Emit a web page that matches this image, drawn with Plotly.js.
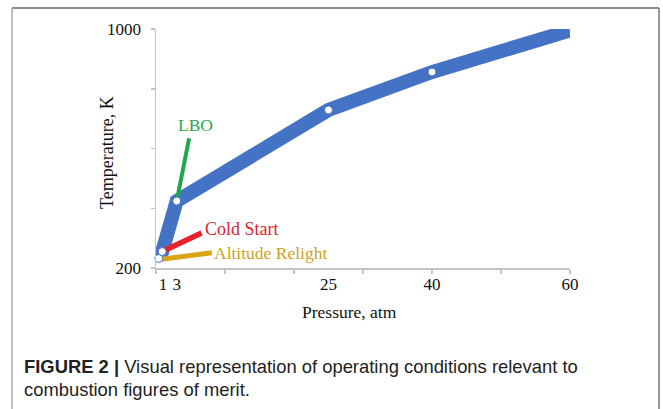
<!DOCTYPE html>
<html>
<head>
<meta charset="utf-8">
<script src="https://cdn.plot.ly/plotly-3.0.1.min.js"></script>
<style>
  html, body { margin: 0; padding: 0; background: #ffffff; }
  #chart { width: 663px; height: 409px; }
</style>
</head>
<body>
<div id="chart"></div>
<script>
// ---- data ----
const pressure = [0.4, 0.9, 3, 25, 40, 60];
const temperature = [232, 255, 424, 729, 856, 995];

const lboPressure = [3, 4.8];
const lboTemperature = [424, 634];

const coldPressure = [0.9, 6.6];
const coldTemperature = [255, 317];

const relightPressure = [0.7, 8.1];
const relightTemperature = [229, 251];

const xTickVals = [1, 3, 25, 40, 60];
const xTickText = ['1', '3', '25', '40', '60'];
const yTickVals = [200, 1000];
const yTickText = ['200', '1000'];

const xTitle = 'Pressure, atm';
const yTitle = 'Temperature, K';
const captionBold = 'FIGURE 2 |';
const captionLine1 = ' Visual representation of operating conditions relevant to';
const captionLine2 = 'combustion figures of merit.';

// ---- layout geometry (pixels) ----
const W = 663, H = 409;
const L = 156, R = 570, T = 29, B = 268;
const px = x => (x - L) / (R - L);
const py = y => (B - y) / (B - T);

const serif = 'Liberation Serif, Times New Roman, serif';
const sans = 'Liberation Sans, Arial, sans-serif';

const blue = '#4472c4';

const traces = [
  {
    x: pressure, y: temperature, mode: 'lines', type: 'scatter',
    line: { color: blue, width: 14 }, hoverinfo: 'skip', cliponaxis: false
  },
  {
    x: lboPressure, y: lboTemperature, mode: 'lines', type: 'scatter',
    line: { color: '#1fa84b', width: 4 }, hoverinfo: 'skip', cliponaxis: false
  },
  {
    x: coldPressure, y: coldTemperature, mode: 'lines', type: 'scatter',
    line: { color: '#e3222b', width: 5.5 }, hoverinfo: 'skip', cliponaxis: false
  },
  {
    x: relightPressure, y: relightTemperature, mode: 'lines', type: 'scatter',
    line: { color: '#d9a514', width: 5 }, hoverinfo: 'skip', cliponaxis: false
  },
  {
    x: pressure.slice(0, 5), y: temperature.slice(0, 5), mode: 'markers', type: 'scatter',
    marker: { color: '#ffffff', size: 8, line: { color: blue, width: 1 } },
    hoverinfo: 'skip', cliponaxis: false
  }
];

const axisGray = '#c4c4c4';

const layout = {
  width: W, height: H,
  margin: { l: L, r: W - R, t: T, b: H - B, pad: 0 },
  paper_bgcolor: '#ffffff', plot_bgcolor: '#ffffff',
  showlegend: false,
  xaxis: {
    range: [0, 60], showgrid: false, zeroline: false,
    showline: true, linecolor: axisGray, linewidth: 1.5,
    tickmode: 'array', tickvals: xTickVals, ticktext: xTickText,
    ticks: '', ticklabelstandoff: 0,
    minor: { ticks: 'outside', ticklen: 4, tickcolor: axisGray, tickwidth: 1.5, tickmode: 'linear', tick0: 0, dtick: 10, showgrid: false },
    tickfont: { family: serif, size: 17, color: '#111' }
  },
  yaxis: {
    range: [200, 1000], showgrid: false, zeroline: false,
    showline: true, linecolor: axisGray, linewidth: 1.5,
    tickmode: 'array', tickvals: yTickVals, ticktext: yTickText,
    ticks: 'outside', ticklen: 4, tickcolor: axisGray, tickwidth: 1.5,
    ticklabelstandoff: 6,
    minor: { ticks: 'outside', ticklen: 4, tickcolor: axisGray, tickwidth: 1.5, tickmode: 'linear', tick0: 200, dtick: 200, showgrid: false },
    tickfont: { family: serif, size: 17, color: '#111' }
  },
  annotations: [
    { text: xTitle, xref: 'paper', yref: 'paper', x: px(349), y: py(312),
      xanchor: 'center', yanchor: 'middle', showarrow: false,
      font: { family: serif, size: 17.5, color: '#111' } },
    { text: yTitle, xref: 'paper', yref: 'paper', x: px(107), y: py(153),
      xanchor: 'center', yanchor: 'middle', showarrow: false, textangle: -90,
      font: { family: serif, size: 18, color: '#111' } },
    { text: 'LBO', xref: 'x', yref: 'y', x: lboPressure[1], y: lboTemperature[1],
      xanchor: 'center', yanchor: 'bottom', xshift: 6, yshift: 1, showarrow: false,
      font: { family: serif, size: 17.5, color: '#2ea84f' } },
    { text: 'Cold Start', xref: 'x', yref: 'y', x: coldPressure[1], y: coldTemperature[1],
      xanchor: 'left', yanchor: 'middle', xshift: 1, yshift: 4, showarrow: false,
      font: { family: serif, size: 18, color: '#d8262d' } },
    { text: 'Altitude Relight', xref: 'x', yref: 'y', x: relightPressure[1], y: relightTemperature[1],
      xanchor: 'left', yanchor: 'middle', xshift: 0, yshift: 0, showarrow: false,
      font: { family: serif, size: 17.5, color: '#cfa11c' } },
    { text: '<b>' + captionBold + '</b>' + captionLine1, xref: 'paper', yref: 'paper',
      x: px(22), y: py(366), xanchor: 'left', yanchor: 'middle', showarrow: false, align: 'left',
      font: { family: sans, size: 18.4, color: '#222' } },
    { text: captionLine2, xref: 'paper', yref: 'paper',
      x: px(22), y: py(389), xanchor: 'left', yanchor: 'middle', showarrow: false, align: 'left',
      font: { family: sans, size: 18.4, color: '#222' } }
  ],
  shapes: [
    { type: 'line', xref: 'paper', yref: 'paper', x0: px(12), x1: px(659), y0: py(8), y1: py(8),
      line: { color: '#666666', width: 1.5 } },
    { type: 'line', xref: 'paper', yref: 'paper', x0: px(12), x1: px(12), y0: py(8), y1: py(409),
      line: { color: '#aaaaaa', width: 1.5 } },
    { type: 'line', xref: 'paper', yref: 'paper', x0: px(659), x1: px(659), y0: py(8), y1: py(409),
      line: { color: '#777777', width: 1.5 } }
  ]
};

Plotly.newPlot('chart', traces, layout, { staticPlot: true, displayModeBar: false });
</script>
</body>
</html>
